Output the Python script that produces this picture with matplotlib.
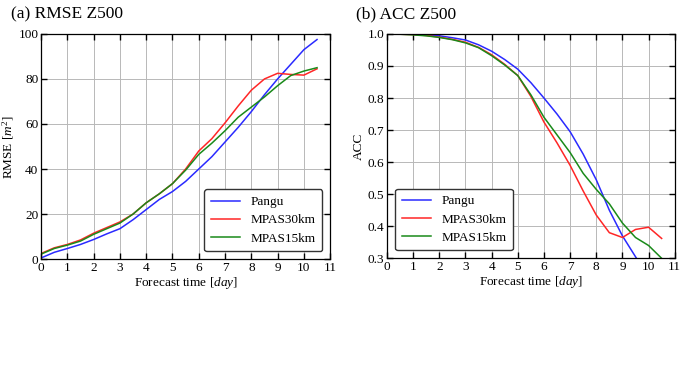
import numpy as np
import matplotlib
matplotlib.use("Agg")
import matplotlib.pyplot as plt

plt.rcParams["font.family"] = "Liberation Serif"
plt.rcParams["mathtext.fontset"] = "custom"
plt.rcParams["mathtext.rm"] = "Liberation Serif"
plt.rcParams["mathtext.it"] = "Liberation Serif:italic"

days = np.arange(0, 11, 0.5)

rmse_pangu = [0.5, 3, 4.7, 6.5, 8.7, 11.2, 13.5, 17.5, 22, 26.5, 30, 34.5,
              40, 45.5, 52, 58.5, 65.5, 73, 80, 86.5, 93, 97.5]
rmse_mpas30 = [2.5, 5, 6.5, 8.5, 11.5, 14, 16.5, 20, 25, 29, 33.5, 40,
               48, 53.5, 60.5, 68, 75, 80, 82.5, 82, 81.7, 84.5]
rmse_mpas15 = [2.2, 4.7, 6.2, 8, 11, 13.5, 16, 20, 25, 29, 33.5, 39.5,
               46.5, 51.5, 57, 63, 67.5, 72, 77, 81.5, 83.5, 85]

acc_pangu = [1.0, 1.0, 0.999, 0.997, 0.994, 0.988, 0.981, 0.966, 0.946, 0.92,
             0.89, 0.848, 0.80, 0.75, 0.695, 0.625, 0.545, 0.45, 0.37, 0.305,
             0.24, 0.18]
acc_mpas30 = [1.0, 0.999, 0.998, 0.995, 0.99, 0.983, 0.974, 0.958, 0.935, 0.905,
              0.87, 0.805, 0.725, 0.66, 0.59, 0.51, 0.435, 0.38, 0.365, 0.39,
              0.397, 0.362]
acc_mpas15 = [1.0, 0.999, 0.997, 0.994, 0.989, 0.982, 0.972, 0.957, 0.932, 0.903,
              0.87, 0.81, 0.74, 0.685, 0.63, 0.565, 0.515, 0.47, 0.41, 0.365,
              0.34, 0.30]

labels = ["Pangu", "MPAS30km", "MPAS15km"]
colors = ["#2a2aff", "#ff2626", "#1a8a1a"]

fig = plt.figure(figsize=(6.85, 3.81), dpi=100)
ax1 = fig.add_axes([0.060, 0.320, 0.422, 0.591])
ax2 = fig.add_axes([0.565, 0.322, 0.420, 0.589])


def style(ax):
    ax.set_xlim(0, 11)
    ax.set_xticks(range(0, 12))
    ax.grid(True, color="#b8b8b8", linewidth=0.7)
    ax.tick_params(direction="in", top=True, right=True, length=4,
                   width=1, labelsize=9.5, pad=2)
    for s in ax.spines.values():
        s.set_linewidth(0.9)
    ax.set_xlabel("Forecast time [$day$]", fontsize=9.5, labelpad=1)


for ax, series in [(ax1, [rmse_pangu, rmse_mpas30, rmse_mpas15]),
                   (ax2, [acc_pangu, acc_mpas30, acc_mpas15])]:
    for vals, lab, c in zip(series, labels, colors):
        ax.plot(days, vals, color=c, linewidth=1.1, label=lab)
    style(ax)

leg_kw = dict(fontsize=9.5, frameon=True, edgecolor="#333333", framealpha=1,
              fancybox=True, handlelength=2.2, borderaxespad=0.6,
              borderpad=0.5, labelspacing=0.45)

ax1.set_ylim(0, 100)
ax1.set_yticks(range(0, 101, 20))
ax1.set_ylabel("RMSE [$m^2$]", fontsize=9.5, labelpad=2)
ax1.legend(loc="lower right", **leg_kw)

ax2.set_ylim(0.3, 1.0)
ax2.set_yticks(np.arange(0.3, 1.01, 0.1))
ax2.set_yticklabels([f"{v:.1f}" for v in np.arange(0.3, 1.01, 0.1)])
ax2.set_ylabel("ACC", fontsize=9.5, labelpad=2)
ax2.legend(loc="lower left", **leg_kw)

fig.text(0.016, 0.963, "(a) RMSE Z500", fontsize=12.5, va="center")
fig.text(0.520, 0.963, "(b) ACC Z500", fontsize=12.5, va="center")

fig.savefig("out.png", dpi=100)
